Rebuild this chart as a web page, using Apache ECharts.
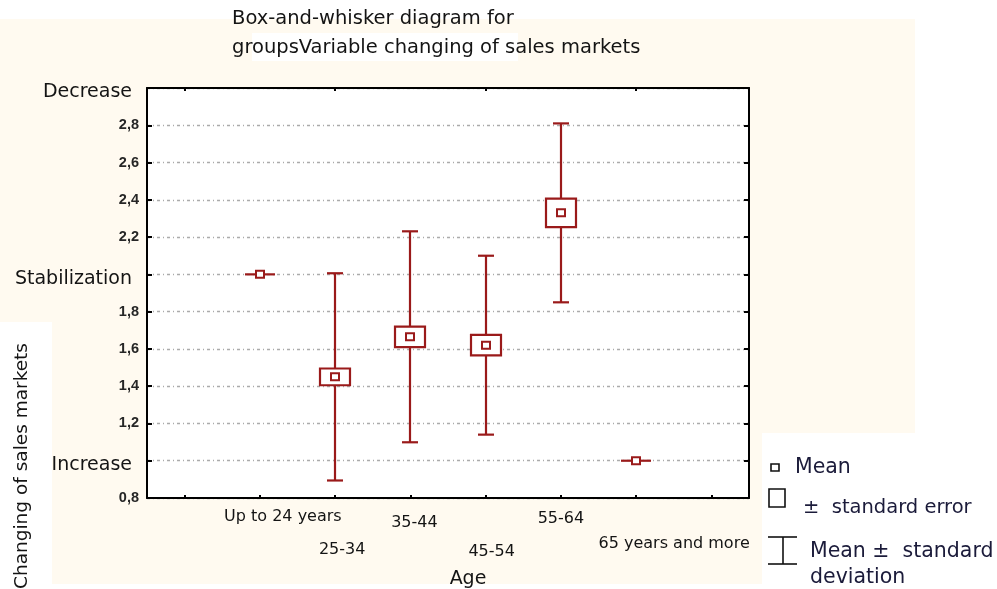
<!DOCTYPE html>
<html>
<head>
<meta charset="utf-8">
<script src="https://cdn.jsdelivr.net/npm/echarts@6/dist/echarts.min.js"></script>
<style>
  html, body { margin: 0; padding: 0; background: #ffffff; }
  #chart { width: 997px; height: 589px; }
</style>
</head>
<body>
<div id="chart"></div>
<script>
// Age groups and their summary statistics
const ageGroups = ['Up to 24 years', '25-34', '35-44', '45-54', '55-64', '65 years and more'];
const meanValues = [2.0, 1.45, 1.665, 1.62, 2.33, 1.0];
const stdErrors = [0, 0.045, 0.055, 0.055, 0.076, 0];
const stdDevs = [0, 0.556, 0.566, 0.48, 0.48, 0];

// Verbal meaning of whole-number levels on the value axis
const levelWords = { 1: 'Increase', 2: 'Stabilization', 3: 'Decrease' };

const titleLines = ['Box-and-whisker diagram for', 'groupsVariable changing of sales markets'];
const legendLabels = ['Mean', '±  standard error', 'Mean ±  standard', 'deviation'];

// One empty slot on each side of the groups
const axisCategories = [' '].concat(ageGroups, ['  ']);

const RED = '#9a1a1a';
const TEXT = '#141414';
const LEGEND_TEXT = '#1b1b3a';

const boxData = ageGroups.map((g, i) => [i + 1, meanValues[i], stdErrors[i], stdDevs[i]]);

function renderBox(params, api) {
  const x = api.value(0);
  const m = api.value(1);
  const se = api.value(2);
  const sd = api.value(3);
  const pMean = api.coord([x, m]);
  const pSdHi = api.coord([x, m + sd]);
  const pSdLo = api.coord([x, m - sd]);
  const pSeHi = api.coord([x, m + se]);
  const pSeLo = api.coord([x, m - se]);
  const cx = Math.round(pMean[0]);
  const capHalf = 8;
  const boxHalf = 15;
  const lineStyle = { stroke: RED, lineWidth: 2.2, fill: null };
  const children = [];
  if (sd > 0) {
    children.push(
      { type: 'line', shape: { x1: cx, y1: pSdHi[1], x2: cx, y2: pSdLo[1] }, style: lineStyle },
      { type: 'line', shape: { x1: cx - capHalf, y1: pSdHi[1], x2: cx + capHalf, y2: pSdHi[1] }, style: lineStyle },
      { type: 'line', shape: { x1: cx - capHalf, y1: pSdLo[1], x2: cx + capHalf, y2: pSdLo[1] }, style: lineStyle }
    );
  }
  if (se > 0) {
    children.push({
      type: 'rect',
      shape: { x: cx - boxHalf, y: pSeHi[1], width: boxHalf * 2, height: pSeLo[1] - pSeHi[1] },
      style: { stroke: RED, lineWidth: 2.2, fill: '#ffffff' }
    });
  } else {
    children.push({
      type: 'line',
      shape: { x1: cx - boxHalf, y1: pMean[1], x2: cx + boxHalf, y2: pMean[1] },
      style: lineStyle
    });
  }
  children.push({
    type: 'rect',
    shape: { x: cx - 4, y: pMean[1] - 3.5, width: 8, height: 7 },
    style: { stroke: RED, lineWidth: 2, fill: '#ffffff' }
  });
  return { type: 'group', children: children };
}

const chart = echarts.init(document.getElementById('chart'), null, { renderer: 'canvas' });

const frameLine = { show: true, onZero: false, lineStyle: { color: '#000000', width: 2 } };
const fontFamily = '"DejaVu Sans", Verdana, sans-serif';
const numFont = '"Liberation Sans", Arial, sans-serif';

const option = {
  backgroundColor: '#ffffff',
  animation: false,
  textStyle: { fontFamily: fontFamily },
  graphic: [
    // paper tint behind the chart
    { type: 'rect', z: -10, shape: { x: 0, y: 19, width: 915, height: 565 }, style: { fill: '#fffaf0' } },
    { type: 'rect', z: -9, shape: { x: 0, y: 322, width: 52, height: 267 }, style: { fill: '#ffffff' } },
    { type: 'rect', z: -9, shape: { x: 252, y: 33, width: 266, height: 28 }, style: { fill: '#ffffff' } },
    // title
    { type: 'text', x: 232, y: 19, style: { text: titleLines[0], fill: TEXT, font: '19.5px ' + fontFamily, verticalAlign: 'middle' } },
    { type: 'text', x: 232, y: 48, style: { text: titleLines[1], fill: TEXT, font: '19.5px ' + fontFamily, verticalAlign: 'middle' } },
    // value-axis name
    {
      type: 'text', x: 22, y: 466, rotation: Math.PI / 2,
      style: { text: 'Changing of sales markets', fill: TEXT, font: '18.5px ' + fontFamily, align: 'center', verticalAlign: 'middle' }
    },
    // legend panel
    { type: 'rect', z: 5, shape: { x: 762, y: 433, width: 235, height: 156 }, style: { fill: '#ffffff' } },
    { type: 'rect', z: 6, shape: { x: 771, y: 464, width: 8, height: 7 }, style: { stroke: '#111111', lineWidth: 1.6, fill: '#ffffff' } },
    { type: 'text', z: 6, x: 795, y: 468, style: { text: legendLabels[0], fill: LEGEND_TEXT, font: '20.5px ' + fontFamily, verticalAlign: 'middle' } },
    { type: 'rect', z: 6, shape: { x: 769, y: 489, width: 16, height: 18 }, style: { stroke: '#111111', lineWidth: 1.6, fill: '#ffffff' } },
    { type: 'text', z: 6, x: 803, y: 508, style: { text: legendLabels[1], fill: LEGEND_TEXT, font: '19.5px ' + fontFamily, verticalAlign: 'middle' } },
    { type: 'line', z: 6, shape: { x1: 768, y1: 537, x2: 797, y2: 537 }, style: { stroke: '#111111', lineWidth: 1.6 } },
    { type: 'line', z: 6, shape: { x1: 783, y1: 537, x2: 783, y2: 564 }, style: { stroke: '#111111', lineWidth: 1.6 } },
    { type: 'line', z: 6, shape: { x1: 768, y1: 564, x2: 797, y2: 564 }, style: { stroke: '#111111', lineWidth: 1.6 } },
    { type: 'text', z: 6, x: 810, y: 552, style: { text: legendLabels[2], fill: LEGEND_TEXT, font: '20.5px ' + fontFamily, verticalAlign: 'middle' } },
    { type: 'text', z: 6, x: 810, y: 578, style: { text: legendLabels[3], fill: LEGEND_TEXT, font: '20.5px ' + fontFamily, verticalAlign: 'middle' } }
  ],
  grid: {
    left: 147, right: 248, top: 88, bottom: 91,
    outerBoundsMode: 'none', containLabel: false,
    backgroundColor: '#ffffff', show: true, borderWidth: 0
  },
  xAxis: [
    {
      type: 'category',
      data: axisCategories,
      position: 'bottom',
      boundaryGap: true,
      axisLine: frameLine,
      axisTick: { show: true, inside: true, alignWithLabel: true, length: 3, lineStyle: { color: '#000', width: 2 } },
      splitLine: { show: false },
      axisLabel: {
        interval: 0,
        margin: 11,
        color: TEXT,
        fontSize: 16,
        formatter: (value, index) => (value.trim() === '' ? '' : '{r' + index + '|' + value + '}'),
        rich: {
          r1: { fontSize: 16, color: TEXT, padding: [0, 0, 0, 46] },
          r2: { fontSize: 16, color: TEXT, padding: [33, 0, 0, 14] },
          r3: { fontSize: 16, color: TEXT, padding: [6, 0, 0, 8] },
          r4: { fontSize: 16, color: TEXT, padding: [35, 0, 0, 12] },
          r5: { fontSize: 16, color: TEXT, padding: [2, 0, 0, 0] },
          r6: { fontSize: 16, color: TEXT, padding: [27, 0, 0, 76] }
        }
      },
      name: 'Age',
      nameLocation: 'middle',
      nameGap: 72,
      nameTextStyle: { color: TEXT, fontSize: 19, padding: [0, 0, 0, 40] }
    },
    {
      type: 'category',
      data: axisCategories,
      position: 'top',
      boundaryGap: true,
      axisLine: frameLine,
      axisTick: { show: true, inside: true, alignWithLabel: true, length: 3, lineStyle: { color: '#000', width: 2 } },
      axisLabel: { show: false },
      splitLine: { show: false }
    }
  ],
  yAxis: [
    {
      type: 'value',
      min: 0.8,
      max: 3.0,
      interval: 0.2,
      position: 'left',
      axisLine: frameLine,
      axisTick: { show: true, inside: true, length: 5, lineStyle: { color: '#000', width: 2 } },
      splitLine: { show: true, lineStyle: { color: '#ababab', width: 1.4, type: [3, 3, 1, 3] } },
      axisLabel: {
        margin: 8,
        color: TEXT,
        formatter: (v) => {
          const r = Math.round(v * 10) / 10;
          if (levelWords[r]) return '{w|' + levelWords[r] + '}';
          return '{n|' + r.toFixed(1).replace('.', ',') + '}';
        },
        rich: {
          n: { fontSize: 14.5, fontWeight: 'bold', fontFamily: numFont, color: '#262626' },
          w: { fontSize: 19, color: TEXT, padding: [9, 7, 0, 0] }
        }
      }
    },
    {
      type: 'value',
      min: 0.8,
      max: 3.0,
      interval: 0.2,
      position: 'right',
      axisLine: frameLine,
      axisTick: { show: true, inside: true, length: 5, lineStyle: { color: '#000', width: 2 } },
      axisLabel: { show: false },
      splitLine: { show: false }
    }
  ],
  series: [
    {
      type: 'custom',
      name: 'Changing of sales markets',
      xAxisIndex: 0,
      yAxisIndex: 0,
      renderItem: renderBox,
      encode: { x: 0, y: [1] },
      data: boxData,
      z: 3
    }
  ]
};

chart.setOption(option);
</script>
</body>
</html>
